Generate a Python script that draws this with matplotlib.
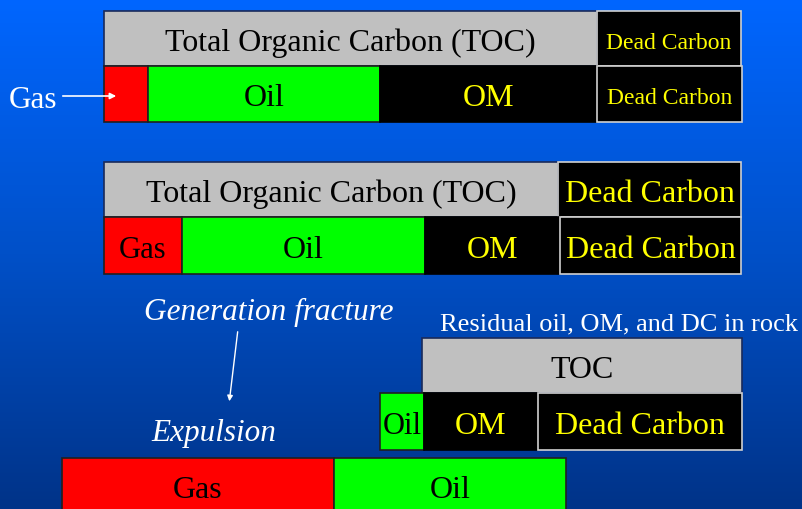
"""
Carbon budget diagram: TOC split into gas, oil, OM and dead carbon,
before and after expulsion.
"""

import matplotlib
matplotlib.use("Agg")
import matplotlib.pyplot as plt
import numpy as np
from matplotlib.colors import LinearSegmentedColormap

# ── Data (segment widths, arbitrary units ~ share of TOC) ───────────────────

row1_top_labels = ["Total Organic Carbon (TOC)", "Dead Carbon"]
row1_top_widths = [493, 144]
row1_bot_labels = ["", "Oil", "OM", "Dead Carbon"]
row1_bot_widths = [44, 232, 217, 145]

row2_top_labels = ["Total Organic Carbon (TOC)", "Dead Carbon"]
row2_top_widths = [454, 183]
row2_bot_labels = ["Gas", "Oil", "OM", "Dead Carbon"]
row2_bot_widths = [78, 243, 135, 181]

row3_top_labels = ["TOC"]
row3_top_widths = [320]
row3_bot_labels = ["Oil", "OM", "Dead Carbon"]
row3_bot_widths = [44, 114, 204]

row4_labels = ["Gas", "Oil"]
row4_widths = [272, 232]

# ── Styles ──────────────────────────────────────────────────────────────────

STYLE = {
    "Total Organic Carbon (TOC)": ("#c0c0c0", "black", "#1a2a5a"),
    "TOC": ("#c0c0c0", "black", "#1a2a5a"),
    "Dead Carbon": ("black", "#ffff00", "#d0d0d0"),
    "OM": ("black", "#ffff00", "black"),
    "Oil": ("#00ff00", "black", "#202020"),
    "Gas": ("#ff0000", "black", "#202020"),
    "": ("#ff0000", "black", "#202020"),
}
TEXT_DY = 4  # serif glyphs sit a little low in the boxes

plt.rcParams["font.family"] = ["Liberation Serif", "DejaVu Serif"]

fig = plt.figure(figsize=(8.02, 5.10), dpi=100)
ax = fig.add_axes([0, 0, 1, 1])
ax.set_xlim(0, 802)
ax.set_ylim(510, 0)
ax.axis("off")

# background gradient
bg = LinearSegmentedColormap.from_list("bg", ["#0066ff", "#0050c8", "#003388"])
ax.imshow(np.linspace(0, 1, 256).reshape(-1, 1), cmap=bg, aspect="auto",
          extent=[0, 802, 510, 0], zorder=0)


def draw_row(labels, widths, left, y0, height, sizes):
    """Draw one stacked horizontal bar with centred labels."""
    starts = left + np.concatenate([[0], np.cumsum(widths)[:-1]])
    for lab, w, s, fs in zip(labels, widths, starts, sizes):
        face, tcol, edge = STYLE[lab]
        ax.barh(y0 + height / 2, w, left=s, height=height, color=face,
                edgecolor=edge, linewidth=1.2, zorder=2)
        if lab:
            ax.text(s + w / 2, y0 + height / 2 + TEXT_DY, lab, ha="center",
                    va="center", color=tcol, fontsize=fs, zorder=3)


draw_row(row1_top_labels, row1_top_widths, 104, 12, 55, [23, 17])
draw_row(row1_bot_labels, row1_bot_widths, 104, 67, 56, [23, 23, 23, 17])
draw_row(row2_top_labels, row2_top_widths, 104, 163, 55, [23, 23])
draw_row(row2_bot_labels, row2_bot_widths, 104, 218, 57, [22, 23, 23, 23])
draw_row(row3_top_labels, row3_top_widths, 422, 339, 55, [23])
draw_row(row3_bot_labels, row3_bot_widths, 380, 394, 57, [22, 23, 23])
draw_row(row4_labels, row4_widths, 62, 459, 56, [23, 23])

# annotations
ax.annotate("", xy=(119, 97), xytext=(60, 97),
            arrowprops=dict(arrowstyle="-|>", color="white", lw=1.2,
                            mutation_scale=9), zorder=4)
ax.text(33, 97 + TEXT_DY, "Gas", ha="center", va="center", color="white",
        fontsize=22.5)

ax.text(269, 308 + TEXT_DY, "Generation fracture", ha="center", va="center",
        color="white", fontsize=22.5, style="italic")
ax.annotate("", xy=(229, 405), xytext=(238, 330),
            arrowprops=dict(arrowstyle="-|>", color="white", lw=1.0,
                            mutation_scale=8), zorder=4)
ax.text(214, 430 + TEXT_DY, "Expulsion", ha="center", va="center",
        color="white", fontsize=22.5, style="italic")
ax.text(619, 322 + 2, "Residual oil, OM, and DC in rock", ha="center",
        va="center", color="white", fontsize=19)

fig.savefig("out.png", dpi=100)
